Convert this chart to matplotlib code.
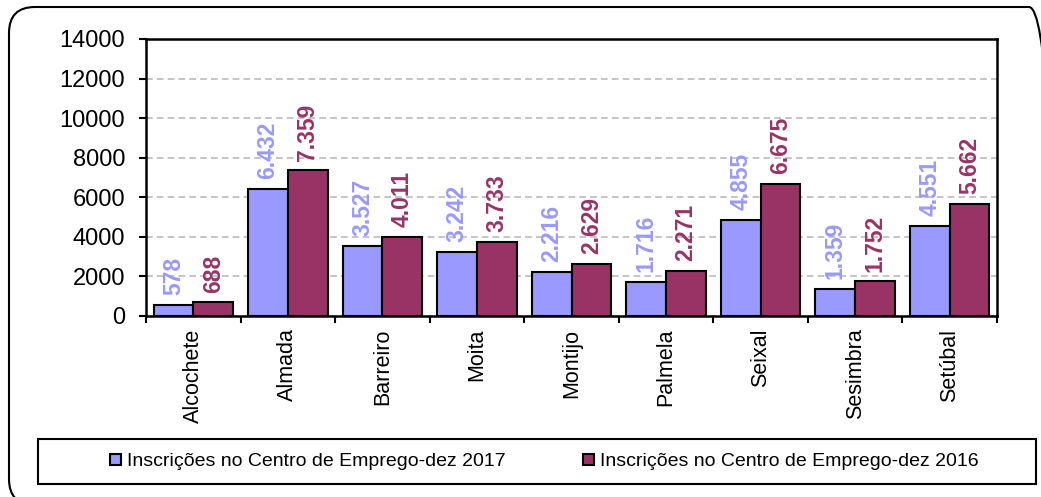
import numpy as np
import matplotlib
matplotlib.use('Agg')
import matplotlib.pyplot as plt
from matplotlib.patches import FancyBboxPatch, Rectangle
from matplotlib.transforms import IdentityTransform

plt.rcParams['font.family'] = ['Liberation Sans', 'DejaVu Sans']

# data
municipios = ['Alcochete', 'Almada', 'Barreiro', 'Moita', 'Montijo',
              'Palmela', 'Seixal', 'Sesimbra', 'Setúbal']
dez_2017 = [578, 6432, 3527, 3242, 2216, 1716, 4855, 1359, 4551]
dez_2016 = [688, 7359, 4011, 3733, 2629, 2271, 6675, 1752, 5662]
serie_labels = ['Inscrições no Centro de Emprego-dez 2017',
                'Inscrições no Centro de Emprego-dez 2016']
cor_2017 = '#9999FF'
cor_2016 = '#993366'


def fmt(v):
    # thousands separator as a dot (pt-PT)
    return f'{v:,}'.replace(',', '.')


fig = plt.figure(figsize=(10.41, 4.97), dpi=100)
ax = fig.add_axes([146 / 1041, 1 - 316 / 497, (997 - 146) / 1041, (316 - 39) / 497])

x = np.arange(len(municipios))
w = 0.42
b1 = ax.bar(x - w / 2, dez_2017, w, color=cor_2017, edgecolor='black', linewidth=1.5,
            label=serie_labels[0], zorder=3)
b2 = ax.bar(x + w / 2, dez_2016, w, color=cor_2016, edgecolor='black', linewidth=1.5,
            label=serie_labels[1], zorder=3)

for bars, vals, cor in [(b1, dez_2017, cor_2017), (b2, dez_2016, cor_2016)]:
    for rect, v in zip(bars, vals):
        ax.annotate(fmt(v), (rect.get_x() + rect.get_width() / 2, v),
                    xytext=(0, 7), textcoords='offset points', rotation=90,
                    ha='center', va='bottom', fontsize=16.5, fontweight='bold',
                    color=cor)

ax.set_ylim(0, 14000)
ax.set_xlim(-0.5, len(municipios) - 0.5)
ax.set_yticks(np.arange(0, 14001, 2000))
ax.tick_params(axis='y', labelsize=17, length=5, width=1.5, pad=10)
ax.set_xticks(x)
ax.set_xticklabels(municipios, rotation=90, fontsize=15.5)
ax.tick_params(axis='x', which='major', length=0, pad=9)
ax.set_xticks(np.arange(-0.5, len(municipios), 1), minor=True)
ax.tick_params(axis='x', which='minor', length=5, width=1.5)

ax.yaxis.grid(True, linestyle=(0, (4, 2.5)), color='#BBBBBB', linewidth=1.2, zorder=0)
for s in ax.spines.values():
    s.set_linewidth(1.8)
    s.set_color('black')

# legend box and legend
fig.patches.append(Rectangle((38 / 1041, 1 - 484 / 497), (1036 - 38) / 1041, 45 / 497,
                             transform=fig.transFigure, facecolor='none',
                             edgecolor='black', linewidth=1.5))
fig.legend(handles=[b1, b2], labels=serie_labels, loc='center',
           bbox_to_anchor=(0.523, 1 - 462 / 497), ncol=2, frameon=False,
           fontsize=14, handlelength=0.55, handleheight=0.55, handletextpad=0.3,
           columnspacing=4.0)

# rounded outer border (runs off the right and bottom edges)
fig.patches.append(FancyBboxPatch((9, -8), 1046, 498,
                                  boxstyle='round,pad=0,rounding_size=26',
                                  transform=IdentityTransform(), facecolor='none',
                                  edgecolor='black', linewidth=1.5))

fig.savefig('out.png', dpi=100)
